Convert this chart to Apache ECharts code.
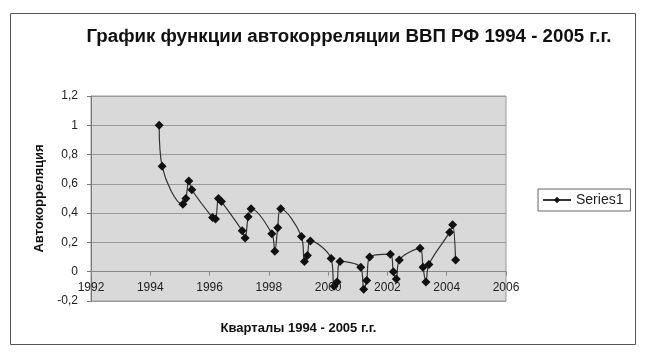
<!DOCTYPE html>
<html>
<head>
<meta charset="utf-8">
<script src="https://cdn.jsdelivr.net/npm/echarts@6/dist/echarts.min.js"></script>
<style>
  html, body { margin: 0; padding: 0; background: #fff; }
  #chart { width: 654px; height: 362px; }
</style>
</head>
<body>
<div id="chart"></div>
<script>
// кварталы: год + номер квартала / 10
const quarters = [
  1994.3, 1994.4,
  1995.1, 1995.2, 1995.3, 1995.4,
  1996.1, 1996.2, 1996.3, 1996.4,
  1997.1, 1997.2, 1997.3, 1997.4,
  1998.1, 1998.2, 1998.3, 1998.4,
  1999.1, 1999.2, 1999.3, 1999.4,
  2000.1, 2000.2, 2000.3, 2000.4,
  2001.1, 2001.2, 2001.3, 2001.4,
  2002.1, 2002.2, 2002.3, 2002.4,
  2003.1, 2003.2, 2003.3, 2003.4,
  2004.1, 2004.2, 2004.3
]
const acf = [
  1.0, 0.72,
  0.46, 0.50, 0.62, 0.56,
  0.37, 0.36, 0.50, 0.48,
  0.28, 0.23, 0.375, 0.43,
  0.26, 0.14, 0.30, 0.43,
  0.24, 0.07, 0.11, 0.21,
  0.09, -0.10, -0.07, 0.07,
  0.03, -0.12, -0.06, 0.10,
  0.12, 0.00, -0.05, 0.08,
  0.16, 0.03, -0.07, 0.05,
  0.27, 0.32, 0.08
]
const xTicks = { min: 1992, max: 2006, step: 2 }
const yTicks = { min: -0.2, max: 1.2, step: 0.2 }

const chart = echarts.init(document.getElementById('chart'))
const font = 'Liberation Sans, Arial, sans-serif'

// подписи оси X идут по линии нуля, поэтому второй (пустой) grid
// заканчивается ровно на y = 0 и несёт подписи и название оси
const gridMain = { left: 91, right: 148, top: 96, bottom: 61 }
const zeroBottom = 362 - 271

const option = {
  animation: false,
  textStyle: { fontFamily: font },
  title: {
    text: 'График функции автокорреляции ВВП РФ 1994 - 2005 г.г.',
    left: 344,
    top: 22,
    textAlign: 'center',
    textStyle: { fontSize: 18.7, fontWeight: 'bold', color: '#111', fontFamily: font }
  },
  graphic: [
    {
      type: 'rect',
      shape: { x: 10.5, y: 13.5, width: 625, height: 331 },
      style: { fill: 'none', stroke: '#555', lineWidth: 1 },
      z: -1
    }
  ],
  legend: {
    data: ['Series1'],
    orient: 'vertical',
    left: 538,
    top: 189,
    padding: [4, 7, 4, 4],
    itemWidth: 28,
    itemHeight: 8,
    itemGap: 0,
    borderColor: '#666',
    borderWidth: 1,
    backgroundColor: '#fff',
    borderRadius: 0,
    textStyle: { fontSize: 14, color: '#222', fontFamily: font }
  },
  grid: [
    Object.assign({
      containLabel: false,
      outerBoundsMode: 'none',
      show: true,
      backgroundColor: '#d9d9d9',
      borderColor: '#999',
      borderWidth: 1
    }, gridMain),
    {
      left: gridMain.left,
      right: gridMain.right,
      top: gridMain.top,
      bottom: zeroBottom,
      containLabel: false,
      outerBoundsMode: 'none',
      show: false
    }
  ],
  xAxis: [
    {
      gridIndex: 0,
      type: 'value',
      min: xTicks.min,
      max: xTicks.max,
      interval: xTicks.step,
      axisLine: { onZero: true, lineStyle: { color: '#888', width: 1 } },
      axisTick: { show: true, inside: false, length: 4, lineStyle: { color: '#888' } },
      axisLabel: { show: false },
      splitLine: { show: false }
    },
    {
      gridIndex: 1,
      type: 'value',
      min: xTicks.min,
      max: xTicks.max,
      interval: xTicks.step,
      name: 'Кварталы 1994 - 2005 г.г.',
      nameLocation: 'middle',
      nameGap: 51,
      nameTextStyle: { fontSize: 13, fontWeight: 'bold', color: '#111', fontFamily: font },
      axisLine: { show: false },
      axisTick: { show: false },
      axisLabel: {
        fontSize: 12,
        color: '#222',
        margin: 11,
        formatter: v => String(v)
      },
      splitLine: { show: false }
    }
  ],
  yAxis: [
    {
      gridIndex: 0,
      type: 'value',
      min: yTicks.min,
      max: yTicks.max,
      interval: yTicks.step,
      name: 'Автокорреляция',
      nameLocation: 'middle',
      nameGap: 45,
      nameRotate: 90,
      nameTextStyle: { fontSize: 13, fontWeight: 'bold', color: '#111', fontFamily: font },
      axisLine: { show: true, onZero: false, lineStyle: { color: '#777' } },
      axisTick: { show: true, length: 4, lineStyle: { color: '#777' } },
      axisLabel: {
        fontSize: 12,
        color: '#222',
        margin: 13,
        formatter: v => String(Math.round(v * 10) / 10).replace('.', ',')
      },
      splitLine: { show: true, lineStyle: { color: '#9a9a9a', width: 1 } }
    },
    {
      gridIndex: 1,
      type: 'value',
      min: 0,
      max: 1,
      show: false
    }
  ],
  series: [
    {
      name: 'Series1',
      type: 'line',
      xAxisIndex: 0,
      yAxisIndex: 0,
      smooth: 0.35,
      data: quarters.map((q, i) => [q, acf[i]]),
      symbol: 'diamond',
      symbolSize: 9,
      itemStyle: { color: '#111' },
      lineStyle: { color: '#333', width: 1.2 }
    }
  ]
}

chart.setOption(option)
</script>
</body>
</html>
